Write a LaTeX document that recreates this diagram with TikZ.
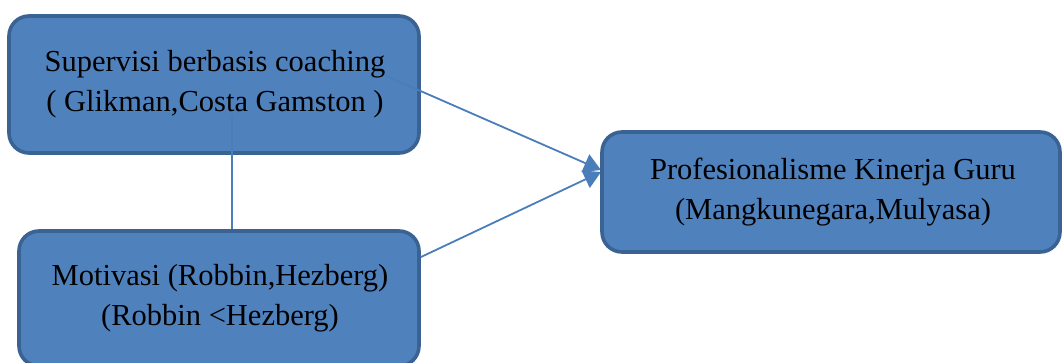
\documentclass[tikz,border=0pt]{standalone}
\usepackage{fontspec}
\setmainfont{Liberation Serif}
\usetikzlibrary{arrows.meta}
\definecolor{boxfill}{HTML}{4F81BD}
\definecolor{boxdraw}{HTML}{3A6293}
\definecolor{linecol}{HTML}{4A7EBB}
\tikzset{
  box/.style={draw=boxdraw, fill=boxfill, line width=3.6pt, rounded corners=20pt},
  lbl/.style={align=center, font=\fontsize{30.5}{40}\selectfont, text=black, inner sep=0pt},
  conn/.style={draw=linecol, line width=1.8pt},
  arr/.style={conn, -{Triangle[length=17pt,width=19pt]}}
}
\begin{document}
\begin{tikzpicture}[x=1pt,y=-1pt]
\useasboundingbox (0,0) rectangle (1062,363);
% boxes
\path[box] (9,16) rectangle (419,153);
\node[lbl] (sup) at (215,84) {Supervisi berbasis coaching\\( Glikman,Costa Gamston )};
\coordinate (supR) at (384,75);
\coordinate (supB) at (232,116);
\coordinate (motT) at (232,231);
\coordinate (motR) at (421,257);
\coordinate (proL) at (601,170);
\coordinate (proL2) at (601,172);
\draw[conn] (supB) -- (motT);
\draw[arr] (supR) -- (proL);
\path[box] (19,231) rectangle (419,366);
\node[lbl] (mot) at (220,298) {Motivasi (Robbin,Hezberg)\\(Robbin <Hezberg)};
\draw[arr] (motR) -- (proL2);
\path[box] (602,132) rectangle (1060,252);
\node[lbl] (pro) at (833,192) {Profesionalisme Kinerja Guru\\(Mangkunegara,Mulyasa)};
\end{tikzpicture}
\end{document}
